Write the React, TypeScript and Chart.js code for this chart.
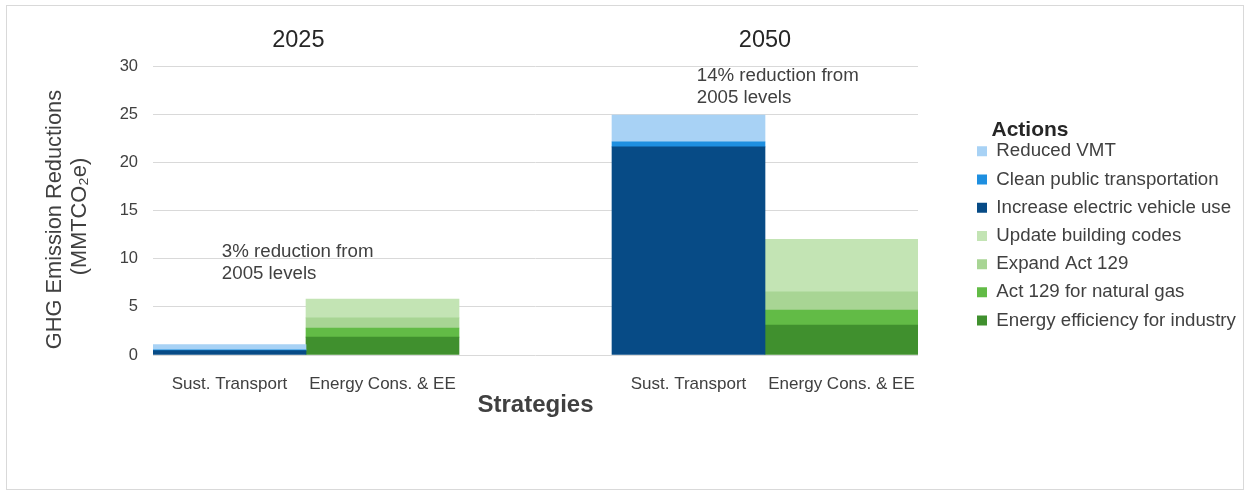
import React, { useEffect, useRef } from "react";
import { Chart, registerables } from "chart.js";

Chart.register(...registerables);

const categories = ["Sust. Transport", "Energy Cons. & EE", "", "Sust. Transport", "Energy Cons. & EE"];
const yearLabels = ["2025", "2050"];

// stacked from bottom to top
const evValues = [0.45, null, null, 21.6, null];
const cleanTransitValues = [0.08, null, null, 0.52, null];
const vmtValues = [0.55, null, null, 2.78, null];
const industryValues = [null, 1.85, null, null, 3.1];
const naturalGasValues = [null, 0.95, null, null, 1.57];
const expandActValues = [null, 1.05, null, null, 1.9];
const buildingCodeValues = [null, 1.95, null, null, 5.43];

const yTicks = { min: 0, max: 30, step: 5 };
const notes = [
  ["3% reduction from", "2005 levels"],
  ["14% reduction from", "2005 levels"],
];

const FONT = 'Arial, "Liberation Sans", sans-serif';
const TEXT = "#404040";

export default function App() {
  const ref = useRef<HTMLCanvasElement | null>(null);

  useEffect(() => {
    const canvas = ref.current;
    if (!canvas) return;

    const datasets = [
      { label: "Increase electric vehicle use", data: evValues, backgroundColor: "#074b86" },
      { label: "Clean public transportation", data: cleanTransitValues, backgroundColor: "#1e8fe0" },
      { label: "Reduced VMT", data: vmtValues, backgroundColor: "#a8d2f5" },
      { label: "Energy efficiency for industry", data: industryValues, backgroundColor: "#40902e" },
      { label: "Act 129 for natural gas", data: naturalGasValues, backgroundColor: "#62bb46" },
      { label: "Expand Act 129", data: expandActValues, backgroundColor: "#a8d594" },
      { label: "Update building codes", data: buildingCodeValues, backgroundColor: "#c3e4b4" },
    ];
    const legendOrder = [
      "Reduced VMT",
      "Clean public transportation",
      "Increase electric vehicle use",
      "Update building codes",
      "Expand Act 129",
      "Act 129 for natural gas",
      "Energy efficiency for industry",
    ];

    const overlay = {
      id: "overlay",
      beforeDraw(chart: any) {
        const lg = chart.legend;
        if (lg) {
          lg.left = 967.5;
          lg.top = 119.5;
          lg.width = 2 * (1030 - 967.5);
          lg.right = 1249;
          lg.bottom = 493;
          lg.height = 493 - 119.5;
        }
      },
      afterDraw(chart: any) {
        const { ctx, scales } = chart;
        const xs = scales.x;
        const ys = scales.y;
        ctx.save();
        ctx.fillStyle = "#262626";
        ctx.font = `23.5px ${FONT}`;
        ctx.textAlign = "center";
        ctx.textBaseline = "middle";
        ctx.fillText(yearLabels[0], xs.getPixelForValue(0.45), 41);
        ctx.fillText(yearLabels[1], xs.getPixelForValue(3.5), 41);

        ctx.fillStyle = TEXT;
        ctx.font = `18.7px ${FONT}`;
        ctx.textAlign = "left";
        const n1x = xs.getPixelForValue(-0.05);
        const n1y = ys.getPixelForValue(10.7);
        ctx.fillText(notes[0][0], n1x, n1y);
        ctx.fillText(notes[0][1], n1x, n1y + 21.5);
        const n2x = xs.getPixelForValue(3.054);
        const n2y = ys.getPixelForValue(28.96);
        ctx.fillText(notes[1][0], n2x, n2y);
        ctx.fillText(notes[1][1], n2x, n2y + 21.5);
        ctx.restore();
      },
    };

    const chart = new Chart(canvas, {
      type: "bar",
      data: { labels: categories, datasets: datasets as any },
      options: {
        responsive: false,
        animation: false,
        devicePixelRatio: 1,
        layout: { padding: { left: 42.5, top: 66, right: 331, bottom: 68 } },
        datasets: {
          bar: { barPercentage: 1, categoryPercentage: 1, borderWidth: 0 },
        },
        plugins: {
          tooltip: { enabled: false },
          legend: {
            display: true,
            position: "chartArea",
            align: "start",
            labels: {
              font: { family: FONT, size: 18.7 },
              color: TEXT,
              boxWidth: 10,
              boxHeight: 10,
              padding: 9.5,
              sort: (a: any, b: any) => legendOrder.indexOf(a.text) - legendOrder.indexOf(b.text),
            },
            title: {
              display: true,
              text: "Actions",
              position: "center",
              color: "#262626",
              padding: 0,
              font: { family: FONT, size: 21, weight: "bold", lineHeight: 13 / 21 },
            },
          },
        },
        scales: {
          x: {
            stacked: true,
            grid: { display: false },
            border: { display: false },
            ticks: {
              font: { family: FONT, size: 17 },
              color: TEXT,
              padding: 11.5,
              maxRotation: 0,
              autoSkip: false,
            },
            title: {
              display: true,
              text: "Strategies",
              color: TEXT,
              font: { family: FONT, size: 24, weight: "bold" },
              padding: { top: 0, bottom: 5.6 },
            },
            afterFit: (s: any) => {
              s.height = 70;
            },
          },
          y: {
            stacked: true,
            min: yTicks.min,
            max: yTicks.max,
            grid: { color: "#d9d9d9", drawTicks: false, lineWidth: 1 },
            border: { display: false },
            ticks: {
              stepSize: yTicks.step,
              font: { family: FONT, size: 16.5 },
              color: TEXT,
              padding: 15,
            },
            title: {
              display: true,
              text: ["GHG Emission Reductions   ", "(MMTCO\u2082e)  "],
              color: TEXT,
              font: { family: FONT, size: 21.8, lineHeight: 1.15 },
              padding: { top: 0, bottom: 0 },
            },
            afterFit: (s: any) => {
              s.width = 110.5;
            },
          },
        },
      },
      plugins: [overlay],
    });

    return () => chart.destroy();
  }, []);

  return (
    <div style={{ position: "fixed", left: 0, top: 0, width: 1249, height: 493, background: "#fff" }}>
      <div
        style={{
          position: "absolute",
          left: 6,
          top: 5,
          width: 1238,
          height: 485,
          boxSizing: "border-box",
          border: "1px solid #d9d9d9",
        }}
      />
      <canvas ref={ref} width={1249} height={493} style={{ position: "absolute", left: 0, top: 0 }} />
    </div>
  );
}
